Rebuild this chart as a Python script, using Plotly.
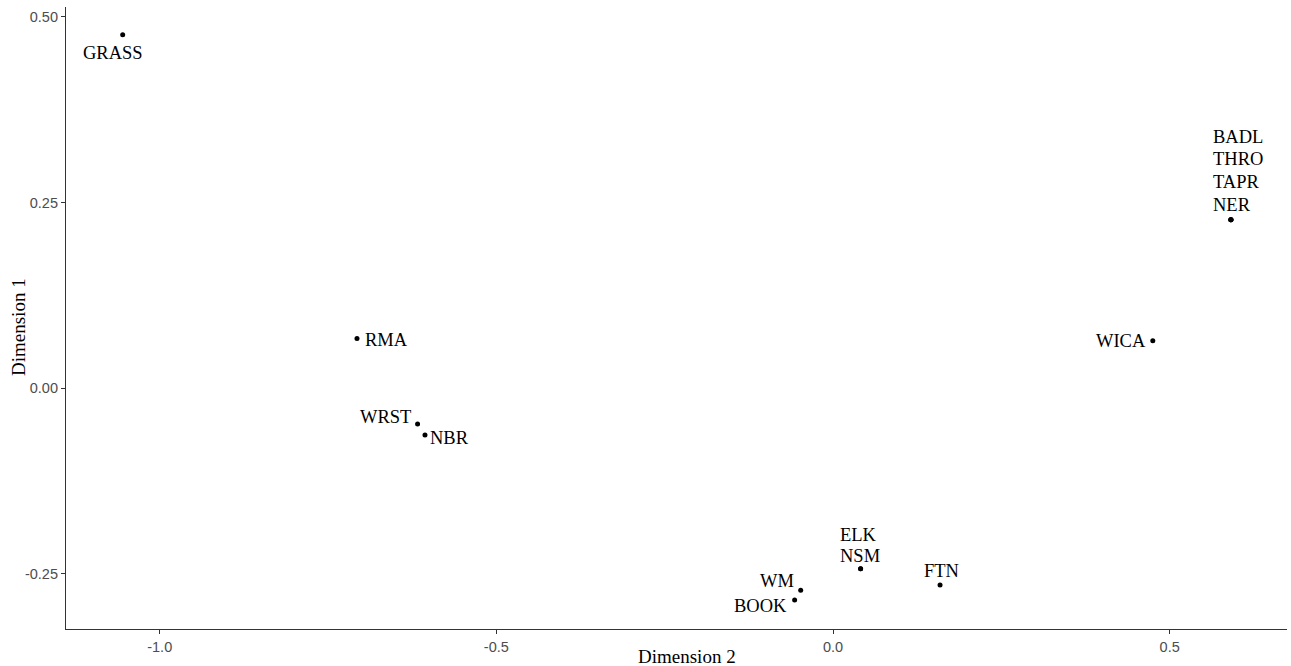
import plotly.graph_objects as go

# ---- data ----
sites = ["GRASS", "BADL", "THRO", "TAPR", "NER", "RMA", "WRST", "NBR",
         "WICA", "ELK", "NSM", "FTN", "WM", "BOOK"]
dim2 = [-1.055, 0.591, 0.591, 0.591, 0.591, -0.707, -0.617, -0.606,
        0.475, 0.041, 0.041, 0.159, -0.048, -0.057]
dim1 = [0.476, 0.227, 0.227, 0.227, 0.227, 0.067, -0.048, -0.063,
        0.064, -0.243, -0.243, -0.265, -0.272, -0.285]

x_ticks = [-1.0, -0.5, 0.0, 0.5]
x_ticklabels = ["-1.0", "-0.5", "0.0", "0.5"]
y_ticks = [-0.25, 0.0, 0.25, 0.5]
y_ticklabels = ["-0.25", "0.00", "0.25", "0.50"]

# label groups (coincident points share a stacked label): (anchor site, lines, xanchor, xshift, yshifts)
label_layout = [
    ("GRASS", ["GRASS"], "center", -9.5, [-18]),
    ("NER", ["BADL", "THRO", "TAPR", "NER"], "left", -18, [83, 60.3, 37.7, 15]),
    ("RMA", ["RMA"], "left", 8.3, [-1.7]),
    ("WRST", ["WRST"], "right", -7, [7]),
    ("NBR", ["NBR"], "left", 5, [-3]),
    ("WICA", ["WICA"], "right", -7, [0]),
    ("NSM", ["ELK", "NSM"], "left", -20.5, [34, 12.3]),
    ("FTN", ["FTN"], "center", 1.4, [14.3]),
    ("WM", ["WM"], "right", -7, [9]),
    ("BOOK", ["BOOK"], "right", -8, [-6]),
]

fig = go.Figure()
fig.add_trace(go.Scatter(
    x=dim2, y=dim1, mode="markers", text=sites,
    marker=dict(color="black", size=5),
    hoverinfo="text", showlegend=False,
))

serif = "Liberation Serif, Times New Roman, serif"
annotations = []
for site, lines, xa, xs, ys in label_layout:
    i = sites.index(site)
    for line, yshift in zip(lines, ys):
        annotations.append(dict(
            x=dim2[i], y=dim1[i], xref="x", yref="y", text=line,
            showarrow=False, xanchor=xa, yanchor="middle",
            xshift=xs, yshift=yshift, borderpad=0, borderwidth=0,
            font=dict(family=serif, size=18.5, color="black"),
        ))

# axis titles
annotations.append(dict(
    x=(687 - 66) / (1287 - 66), y=0, xref="paper", yref="paper",
    text="Dimension 2", showarrow=False, xanchor="center", yanchor="middle",
    yshift=-(656 - 629), font=dict(family=serif, size=19, color="black"),
))
annotations.append(dict(
    x=0, y=(629 - 327) / (629 - 7), xref="paper", yref="paper",
    text="Dimension 1", showarrow=False, xanchor="center", yanchor="middle",
    xshift=-(66 - 18), textangle=-90,
    font=dict(family=serif, size=19, color="black"),
))

axis_common = dict(
    showgrid=False, zeroline=False, showline=True, linecolor="#333333",
    linewidth=1.2, ticks="outside", ticklen=4, tickcolor="#333333",
    tickwidth=1.1,
    tickfont=dict(family="Liberation Sans, Arial, sans-serif", size=14.5,
                  color="#4d4d4d"),
)

fig.update_layout(
    width=1291, height=666,
    margin=dict(l=66, r=4, t=7, b=37),
    paper_bgcolor="white", plot_bgcolor="white",
    xaxis=dict(range=[-1.1392, 0.6743], tickvals=x_ticks,
               ticktext=x_ticklabels, **axis_common),
    yaxis=dict(range=[-0.3241, 0.5134], tickvals=y_ticks,
               ticktext=y_ticklabels, **axis_common),
    annotations=annotations,
)

fig.write_html(
    "out.html",
    config={"displayModeBar": False},
    post_script="document.body.style.margin='0';document.body.style.overflow='hidden';",
)
